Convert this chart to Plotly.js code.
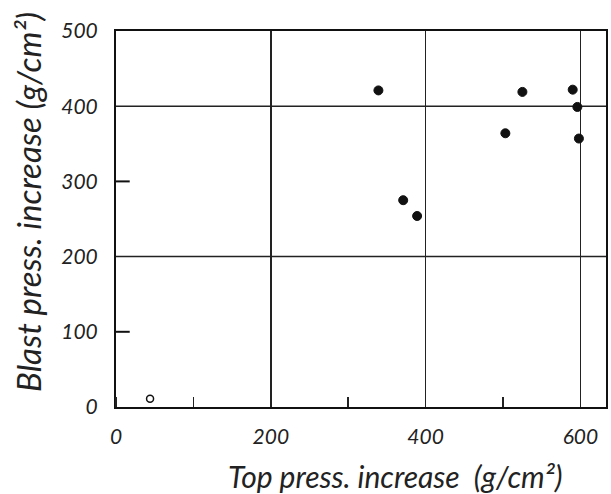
<!DOCTYPE html>
<html>
<head>
<meta charset="utf-8">
<script src="https://cdn.plot.ly/plotly-3.0.1.min.js"></script>
<style>html,body{margin:0;padding:0;background:#fff;}#chart{width:611px;height:494px;}</style>
</head>
<body>
<div id="chart"></div>
<script>
// Filled points: Top press. increase vs Blast press. increase (g/cm²)
const topPressFilled = [339, 371, 389, 503, 525, 590, 596, 598];
const blastPressFilled = [421, 275, 254, 364, 419, 422, 399, 357];
// Open point
const topPressOpen = [44];
const blastPressOpen = [11];

const xTickVals = [0, 200, 400, 600];
const xTickText = ['0', '200', '400', '600'];
const yTickVals = [0, 100, 200, 300, 400, 500];
const yTickText = ['0', '100', '200', '300', '400', '500'];
const yGridVals = [200, 400];
const yInnerTickVals = [100, 300];

const xTitle = 'Top press. increase  (g/cm²)';
const yTitle = 'Blast press. increase (g/cm²)';

const fontFam = 'Lato, "DejaVu Sans", sans-serif';

const traces = [
  {
    x: topPressFilled, y: blastPressFilled, type: 'scatter', mode: 'markers',
    marker: {color: '#111', size: 9, line: {color: '#111', width: 1}},
    showlegend: false, hoverinfo: 'skip'
  },
  {
    x: topPressOpen, y: blastPressOpen, type: 'scatter', mode: 'markers',
    marker: {color: '#fff', size: 7, line: {color: '#111', width: 1.5}},
    showlegend: false, hoverinfo: 'skip'
  }
];

const shapes = yGridVals.map(function(v){
  return {type: 'line', xref: 'paper', yref: 'y', x0: 0, x1: 1, y0: v, y1: v,
          line: {color: '#222', width: 1.5}, layer: 'below'};
}).concat(yInnerTickVals.map(function(v){
  return {type: 'line', xref: 'paper', yref: 'y', x0: 0, x1: 0.028, y0: v, y1: v,
          line: {color: '#111', width: 2}, layer: 'above'};
}));

const layout = {
  width: 611, height: 494,
  margin: {l: 116, r: 5, t: 31, b: 87},
  paper_bgcolor: '#fff', plot_bgcolor: '#fff',
  font: {family: fontFam, color: '#222'},
  xaxis: {
    range: [0, 633], tickmode: 'array', tickvals: xTickVals, ticktext: xTickText,
    showgrid: true, gridcolor: '#222', gridwidth: 1.5,
    showline: true, linecolor: '#111', linewidth: 2, mirror: true,
    ticks: '', zeroline: false,
    minor: {dtick: 100, tick0: 0, ticks: 'inside', ticklen: 10, tickcolor: '#222', tickwidth: 1.5, showgrid: false},
    tickfont: {size: 21, style: 'italic', family: fontFam, color: '#222'},
    ticklabelstandoff: 10
  },
  yaxis: {
    range: [0, 500], tickmode: 'array', tickvals: yTickVals, ticktext: yTickText,
    showgrid: false,
    showline: true, linecolor: '#111', linewidth: 2, mirror: true,
    ticks: '', zeroline: false,
    tickfont: {size: 21, style: 'italic', family: fontFam, color: '#222'},
    ticklabelstandoff: 12
  },
  shapes: shapes,
  annotations: [
    {text: xTitle, xref: 'paper', yref: 'paper', x: 0.57, y: -0.183, xanchor: 'center', yanchor: 'middle',
     showarrow: false, font: {size: 30, style: 'italic', family: fontFam, color: '#222'}},
    {text: yTitle, xref: 'paper', yref: 'paper', x: -0.18, y: 0.545, xanchor: 'center', yanchor: 'middle',
     textangle: -90, showarrow: false, font: {size: 33, style: 'italic', family: fontFam, color: '#222'}}
  ]
};

Plotly.newPlot('chart', traces, layout, {staticPlot: true, displayModeBar: false});
</script>
</body>
</html>
